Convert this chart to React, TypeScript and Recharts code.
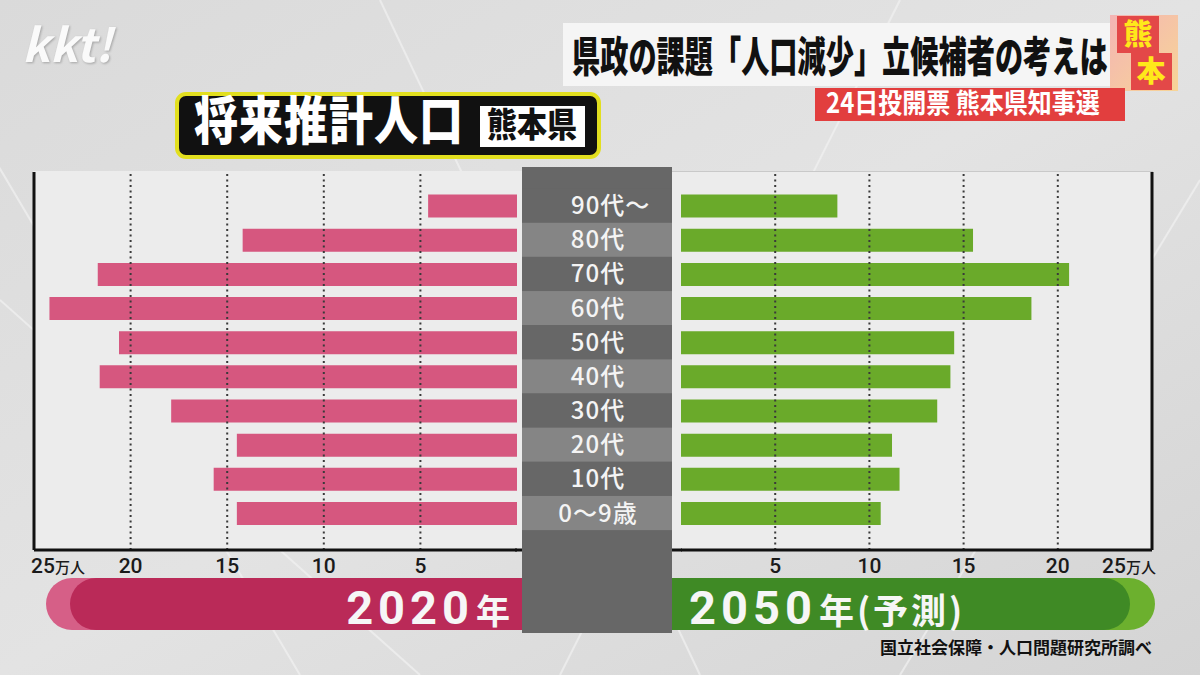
import React from "react";
import { BarChart, Bar, XAxis, YAxis, ReferenceLine } from "recharts";

// 熊本県 将来推計人口（万人）
const ageGroups = ["90代～", "80代", "70代", "60代", "50代", "40代", "30代", "20代", "10代", "0〜9歳"];
const pop2020 = [4.6, 14.2, 21.7, 24.2, 20.6, 21.6, 17.9, 14.5, 15.7, 14.5];
const pop2050 = [8.3, 15.5, 20.6, 18.6, 14.5, 14.3, 13.6, 11.2, 11.6, 10.6];
const axisTicks = [5, 10, 15, 20, 25];
const gridTicks = [5, 10, 15, 20];

const rows = ageGroups.map((age, i) => ({ age, y2020: pop2020[i], y2050: pop2050[i] }));

const FONT = "'Noto Sans CJK JP', 'Noto Sans', sans-serif";
const NUM_FONT = "Roboto, 'Noto Sans CJK JP', sans-serif";
const PINK = "#d6577f";
const GREEN = "#6aaa2a";
const ROW = 34.15;
const COL_X = 522;
const COL_W = 150;
const yPad = { top: 16.6, bottom: 19.9 };

function AgeTick(props: any) {
  const { y, payload, index } = props;
  const label: string = payload.value;
  const light = index % 2 === 1;
  const wave = label.endsWith("～");
  return (
    <g>
      <rect x={COL_X} y={y - ROW / 2} width={COL_W} height={ROW} fill={light ? "#858585" : "#676767"} />
      <text
        x={wave ? 571 : COL_X + COL_W / 2 + 1}
        y={y + 8.5}
        textAnchor={wave ? "start" : "middle"}
        fill="#f4f4f4"
        fontSize={24}
        fontWeight={500}
        letterSpacing={1}
        fontFamily={FONT}
      >
        {label}
      </text>
    </g>
  );
}

function makeValueTick(side: "left" | "right") {
  return function ValueTick(props: any) {
    const { x, y, payload } = props;
    const v = payload.value;
    const last = v === 25;
    const anchor = last ? (side === "left" ? "start" : "end") : "middle";
    const tx = last ? (side === "left" ? x - 3 : x + 4) : x;
    return (
      <text x={tx} y={y + 15} textAnchor={anchor} fill="#1a1a1a" fontFamily={NUM_FONT} fontWeight={500}>
        <tspan fontSize={21}>{v}</tspan>
        {last && <tspan fontSize={15} fontFamily={FONT}>万人</tspan>}
      </text>
    );
  };
}

function Background() {
  return (
    <svg width={1200} height={675} style={{ position: "absolute", left: 0, top: 0 }}>
      <defs>
        <linearGradient id="bg" x1="0" y1="0" x2="1" y2="1">
          <stop offset="0%" stopColor="#dadada" />
          <stop offset="50%" stopColor="#e3e3e3" />
          <stop offset="100%" stopColor="#d4d4d4" />
        </linearGradient>
        <linearGradient id="tag" x1="0" y1="0" x2="1" y2="1">
          <stop offset="0%" stopColor="#f4b4b4" />
          <stop offset="100%" stopColor="#f7d597" />
        </linearGradient>
      </defs>
      <rect width={1200} height={675} fill="url(#bg)" />
      <g stroke="#f2f2f2" strokeWidth={2} opacity={0.7}>
        <line x1={-100} y1={0} x2={300} y2={675} />
        <line x1={380} y1={0} x2={700} y2={675} />
        <line x1={900} y1={0} x2={560} y2={675} />
        <line x1={1200} y1={180} x2={900} y2={675} />
        <line x1={0} y1={300} x2={420} y2={675} />
      </g>

      {/* chart panels */}
      <rect x={33} y={171} width={489} height={379} fill="#ececec" />
      <rect x={672} y={171} width={481} height={379} fill="#ececec" />
      <line x1={672} y1={171.5} x2={1153} y2={171.5} stroke="#c9c9c9" strokeWidth={1} />
      <line x1={515} y1={550} x2={522} y2={550} stroke="#111" strokeWidth={3} />
      <line x1={672} y1={550} x2={682} y2={550} stroke="#111" strokeWidth={3} />

      {/* logo */}
      <text x={22} y={62} fill="#fafafa" fontSize={46} fontWeight={700} fontStyle="italic" fontFamily={FONT}
        style={{ filter: "drop-shadow(1px 1px 1px rgba(0,0,0,0.25))" }}>
        kkt!
      </text>

      {/* title */}
      <rect x={563} y={23} width={553} height={63} fill="#f5f5f5" />
      <text transform="translate(572,72) scale(1,1.5)" fill="#111" fontSize={28.2} fontWeight={900} fontFamily={FONT}>
        県政の課題「人口減少」立候補者の考えは
      </text>
      <rect x={1110} y={15} width={68} height={76} fill="url(#tag)" />
      <rect x={1117} y={16} width={42} height={37} fill="#e34848" />
      <rect x={1131} y={53} width={41} height={37} fill="#e34848" />
      <text x={1138} y={45} textAnchor="middle" fill="#ffe81a" fontSize={29} fontWeight={900} fontFamily={FONT}>熊</text>
      <text x={1151} y={82} textAnchor="middle" fill="#ffe81a" fontSize={29} fontWeight={900} fontFamily={FONT}>本</text>
      <rect x={815} y={88} width={310} height={33} fill="#e23e3e" />
      <text transform="translate(826,113) scale(1,1.15)" fill="#fff" fontSize={24} fontWeight={700} fontFamily={FONT}>
        24日投開票 熊本県知事選
      </text>

      {/* chart title */}
      <rect x={177} y={94} width={422} height={63} rx={9} fill="#111" stroke="#e2df1f" strokeWidth={4} />
      <text transform="translate(194,140) scale(1,1.18)" fill="#fff" fontSize={44} fontWeight={900} fontFamily={FONT}
        letterSpacing={1}>
        将来推計人口
      </text>
      <rect x={480} y={106} width={105} height={41} fill="#fff" />
      <text transform="translate(532,137) scale(1,1.15)" textAnchor="middle" fill="#111" fontSize={30} fontWeight={900} fontFamily={FONT}>
        熊本県
      </text>

      {/* year banners */}
      <rect x={46} y={578} width={520} height={52} rx={26} fill="#d65f87" />
      <rect x={70} y={578} width={500} height={52} rx={26} fill="#ba2a58" />
      <text x={510} y={624} textAnchor="end" fill="#f6f6f6" fontWeight={700} fontFamily={NUM_FONT}>
        <tspan fontSize={47} letterSpacing={5}>2020</tspan>
        <tspan fontSize={34} dx={2} fontFamily={FONT}>年</tspan>
      </text>
      <rect x={640} y={578} width={515} height={52} rx={26} fill="#6cb02e" />
      <rect x={640} y={578} width={490} height={52} rx={26} fill="#3f8a25" />
      <text x={689} y={624} fill="#f6f6f6" fontWeight={700} fontFamily={NUM_FONT}>
        <tspan fontSize={47} letterSpacing={5}>2050</tspan>
        <tspan fontSize={35} dx={2} letterSpacing={3} fontFamily={FONT}>年(予測)</tspan>
      </text>

      <text x={1152} y={654} textAnchor="end" fill="#111" fontSize={17} fontWeight={700} fontFamily={FONT}>
        国立社会保障・人口問題研究所調べ
      </text>
    </svg>
  );
}

export default function App() {
  return (
    <div style={{ position: "absolute", left: 0, top: 0, width: 1200, height: 675, overflow: "hidden", fontFamily: FONT }}>
      <Background />
      <div style={{ position: "absolute", left: COL_X, top: 167, width: COL_W, height: 466, background: "#676767" }} />

      <div style={{ position: "absolute", left: 0, top: 150 }}>
        <BarChart layout="vertical" width={690} height={430} data={rows}
          margin={{ top: 22, right: 18, bottom: 0, left: 34 }}>
          <XAxis type="number" domain={[0, 25]} ticks={axisTicks} reversed interval={0} height={30}
            axisLine={{ stroke: "#111", strokeWidth: 3 }} tickLine={false} tick={makeValueTick("left")} />
          <YAxis type="category" dataKey="age" orientation="right" width={155} interval={0}
            axisLine={false} tickLine={false} tick={<AgeTick />} padding={yPad} />
          {gridTicks.map((v) => (
            <ReferenceLine key={v} x={v} stroke="#3a3a3a" strokeWidth={2} strokeDasharray="2 3.5" />
          ))}
          <ReferenceLine x={25} stroke="#111" strokeWidth={3} />
          <Bar dataKey="y2020" fill={PINK} barSize={23} isAnimationActive={false} />
        </BarChart>
      </div>

      <div style={{ position: "absolute", left: 660, top: 150 }}>
        <BarChart layout="vertical" width={520} height={430} data={rows}
          margin={{ top: 22, right: 28, bottom: 0, left: 21 }}>
          <XAxis type="number" domain={[0, 25]} ticks={axisTicks} interval={0} height={30}
            axisLine={{ stroke: "#111", strokeWidth: 3 }} tickLine={false} tick={makeValueTick("right")} />
          <YAxis type="category" dataKey="age" hide padding={yPad} />
          {gridTicks.map((v) => (
            <ReferenceLine key={v} x={v} stroke="#3a3a3a" strokeWidth={2} strokeDasharray="2 3.5" />
          ))}
          <ReferenceLine x={25} stroke="#111" strokeWidth={3} />
          <Bar dataKey="y2050" fill={GREEN} barSize={23} isAnimationActive={false} />
        </BarChart>
      </div>
    </div>
  );
}
